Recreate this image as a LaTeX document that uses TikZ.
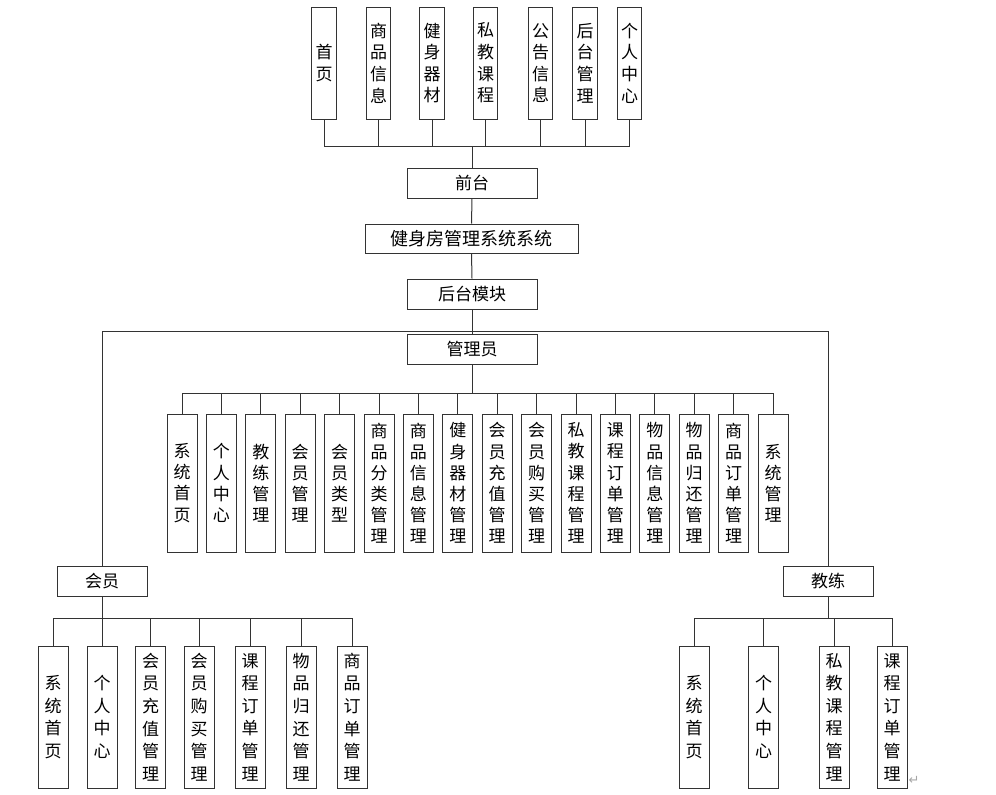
\documentclass[tikz,border=0pt]{standalone}
\usepackage{fontspec}
\newfontfamily\cjk{Noto Sans CJK SC}
\newfontfamily\dejavu{DejaVu Sans}
\begin{document}
\begin{tikzpicture}[x=1pt,y=-1pt,
  box/.style={draw=black!80, line width=1pt, fill=white, inner sep=0pt},
  hbox/.style={box, minimum width=130pt, minimum height=30pt, font=\cjk\fontsize{17}{17}\selectfont},
  vtop/.style={box, minimum width=24.5pt, minimum height=112pt, align=center, font=\cjk\fontsize{17}{21.6}\selectfont},
  vadm/.style={box, minimum width=30pt, minimum height=138pt, align=center, font=\cjk\fontsize{17}{21.1}\selectfont},
  vbot/.style={box, minimum width=30pt, minimum height=142pt, align=center, font=\cjk\fontsize{17}{22.6}\selectfont},
  link/.style={draw=black!80, line width=1pt}]
\useasboundingbox (0,0) rectangle (996,795);
\fill[white] (0,0) rectangle (996,795);

% top row
\node[vtop] (t1) at (324,63) {首\\页};
\node[vtop] (t2) at (378.5,63) {商\\品\\信\\息};
\node[vtop] (t3) at (432,63) {健\\身\\器\\材};
\node[vtop] (t4) at (485.5,63) {私\\教\\课\\程};
\node[vtop] (t5) at (540.5,63) {公\\告\\信\\息};
\node[vtop] (t6) at (585,63) {后\\台\\管\\理};
\node[vtop] (t7) at (629.5,63) {个\\人\\中\\心};
\coordinate (tbus) at (473,146);

\node[hbox] (qt) at (472,183) {前台};
\node[box, minimum width=213pt, minimum height=29pt, font=\cjk\fontsize{18}{18}\selectfont] (sys) at (471.5,238.5) {健身房管理系统系统};
\node[hbox] (ht) at (472,294) {后台模块};
\node[hbox] (gly) at (472,349.5) {管理员};
\coordinate (cross) at (472,331);
\coordinate (abus) at (472,393);

% admin row
\node[vadm] (a0) at (182,483) {系\\统\\首\\页};
\node[vadm] (a1) at (221.4,483) {个\\人\\中\\心};
\node[vadm] (a2) at (260.8,483) {教\\练\\管\\理};
\node[vadm] (a3) at (300.2,483) {会\\员\\管\\理};
\node[vadm] (a4) at (339.6,483) {会\\员\\类\\型};
\node[vadm] (a5) at (379,483) {商\\品\\分\\类\\管\\理};
\node[vadm] (a6) at (418.4,483) {商\\品\\信\\息\\管\\理};
\node[vadm] (a7) at (457.8,483) {健\\身\\器\\材\\管\\理};
\node[vadm] (a8) at (497.2,483) {会\\员\\充\\值\\管\\理};
\node[vadm] (a9) at (536.6,483) {会\\员\\购\\买\\管\\理};
\node[vadm] (a10) at (576,483) {私\\教\\课\\程\\管\\理};
\node[vadm] (a11) at (615.4,483) {课\\程\\订\\单\\管\\理};
\node[vadm] (a12) at (654.8,483) {物\\品\\信\\息\\管\\理};
\node[vadm] (a13) at (694.2,483) {物\\品\\归\\还\\管\\理};
\node[vadm] (a14) at (733.6,483) {商\\品\\订\\单\\管\\理};
\node[vadm] (a15) at (773,483) {系\\统\\管\\理};

% member / coach
\node[hbox, minimum width=90pt] (hy) at (102,581) {会员};
\node[hbox, minimum width=90pt] (jl) at (828,581) {教练};
\coordinate (mbus) at (102,618);

\node[vbot] (m0) at (53,717) {系\\统\\首\\页};
\node[vbot] (m1) at (102,717) {个\\人\\中\\心};
\node[vbot] (m2) at (150.5,717) {会\\员\\充\\值\\管\\理};
\node[vbot] (m3) at (199,717) {会\\员\\购\\买\\管\\理};
\node[vbot] (m4) at (250,717) {课\\程\\订\\单\\管\\理};
\node[vbot] (m5) at (301,717) {物\\品\\归\\还\\管\\理};
\node[vbot] (m6) at (352,717) {商\\品\\订\\单\\管\\理};

\node[vbot] (c0) at (694,717) {系\\统\\首\\页};
\node[vbot] (c1) at (763.5,717) {个\\人\\中\\心};
\node[vbot] (c2) at (834,717) {私\\教\\课\\程\\管\\理};
\node[vbot] (c3) at (892,717) {课\\程\\订\\单\\管\\理};

\node[font=\dejavu\fontsize{13}{13}\selectfont, text=black!35, inner sep=0pt] (ret) at (914,780) {↵};

% connectors: top
\foreach \i in {1,...,7} \draw[link] (t\i.south) -- (t\i.south |- tbus);
\draw[link] (t1.south |- tbus) -- (t7.south |- tbus);
\draw[link] (qt.north) -- (qt.north |- tbus);
% main axis
\draw[link] (qt.south) -- (sys.north);
\draw[link] (sys.south) -- (ht.north);
\draw[link] (ht.south) -- (gly.north);
\draw[link] (hy.north) |- (jl.north |- cross) -- (jl.north);
% admin
\draw[link] (gly.south) -- (gly.south |- abus);
\draw[link] (a0.north |- abus) -- (a15.north |- abus);
\foreach \i in {0,...,15} \draw[link] (a\i.north) -- (a\i.north |- abus);
% member
\draw[link] (hy.south) -- (hy.south |- mbus);
\draw[link] (m0.north |- mbus) -- (m6.north |- mbus);
\foreach \i in {0,...,6} \draw[link] (m\i.north) -- (m\i.north |- mbus);
% coach
\draw[link] (jl.south) -- (jl.south |- mbus);
\draw[link] (c0.north |- mbus) -- (c3.north |- mbus);
\foreach \i in {0,...,3} \draw[link] (c\i.north) -- (c\i.north |- mbus);
\end{tikzpicture}
\end{document}
